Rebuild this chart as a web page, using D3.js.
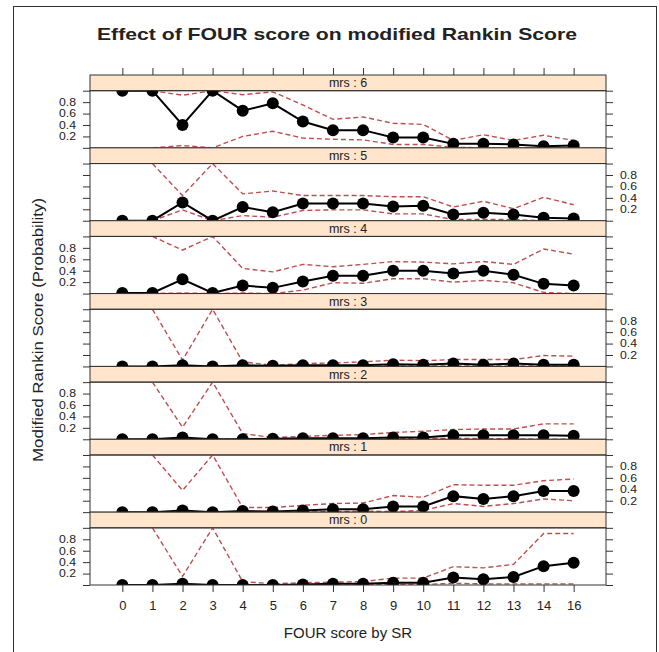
<!DOCTYPE html>
<html lang="en">
<head>
    <meta charset="UTF-8">
    <title>Effect of FOUR score on modified Rankin Score</title>
    <script src="https://d3js.org/d3.v7.min.js"></script>
    <style>
        body { margin: 0; background: #fff; }
        svg { display: block; }
        text { font-family: "Liberation Sans", Arial, sans-serif; fill: #222; }
        .strip-bg { fill: #ffe5cc; stroke: #333; stroke-width: 1; }
        .panel-box { fill: none; stroke: #333; stroke-width: 1; }
        .fit-line { fill: none; stroke: #000; stroke-width: 2; }
        .ci-line { fill: none; stroke: #bf4f4f; stroke-width: 1.4; stroke-dasharray: 5,3; }
    </style>
</head>
<body>
    <svg id="chart"></svg>

    <script>
        // FOUR score categories (15 is absent in the data)
        var fourScores = ["0", "1", "2", "3", "4", "5", "6", "7", "8", "9", "10", "11", "12", "13", "14", "16"];

        // panels from top to bottom
        var mrsLevels = [6, 5, 4, 3, 2, 1, 0];

        // fitted probability, one row per mrs level (same order as mrsLevels)
        var fitted = [
            [1.00, 1.00, 0.40, 1.00, 0.65, 0.78, 0.46, 0.31, 0.31, 0.18, 0.18, 0.07, 0.07, 0.06, 0.03, 0.04],
            [0.00, 0.00, 0.32, 0.00, 0.24, 0.15, 0.30, 0.30, 0.30, 0.25, 0.26, 0.11, 0.14, 0.11, 0.05, 0.04],
            [0.01, 0.01, 0.25, 0.01, 0.14, 0.10, 0.21, 0.31, 0.31, 0.40, 0.40, 0.35, 0.40, 0.33, 0.17, 0.14],
            [0.00, 0.00, 0.02, 0.00, 0.02, 0.01, 0.02, 0.02, 0.02, 0.04, 0.03, 0.05, 0.03, 0.05, 0.03, 0.03],
            [0.00, 0.00, 0.03, 0.00, 0.00, 0.01, 0.02, 0.02, 0.02, 0.03, 0.03, 0.07, 0.07, 0.07, 0.07, 0.06],
            [0.00, 0.00, 0.03, 0.00, 0.02, 0.01, 0.03, 0.05, 0.05, 0.10, 0.10, 0.28, 0.23, 0.28, 0.37, 0.37],
            [0.00, 0.00, 0.02, 0.00, 0.00, 0.00, 0.01, 0.02, 0.02, 0.04, 0.04, 0.13, 0.10, 0.14, 0.33, 0.39]
        ];

        // upper confidence bound
        var upper = [
            [null, 1.00, 0.92, 1.00, 0.93, 0.98, 0.75, 0.50, 0.54, 0.43, 0.41, 0.13, 0.23, 0.13, 0.22, 0.13],
            [null, 1.00, 0.44, 1.00, 0.47, 0.52, 0.44, 0.44, 0.44, 0.42, 0.42, 0.24, 0.34, 0.21, 0.41, 0.28],
            [null, 1.00, 0.76, 1.00, 0.44, 0.38, 0.51, 0.47, 0.51, 0.56, 0.55, 0.52, 0.56, 0.51, 0.78, 0.69],
            [null, 1.00, 0.11, 1.00, 0.08, 0.02, 0.05, 0.06, 0.08, 0.11, 0.10, 0.12, 0.12, 0.12, 0.19, 0.18],
            [null, 1.00, 0.21, 1.00, 0.10, 0.03, 0.05, 0.07, 0.08, 0.12, 0.14, 0.17, 0.18, 0.18, 0.27, 0.27],
            [null, 1.00, 0.38, 1.00, 0.08, 0.08, 0.12, 0.15, 0.16, 0.29, 0.26, 0.48, 0.47, 0.47, 0.55, 0.58],
            [null, 1.00, 0.15, 1.00, 0.06, 0.02, 0.04, 0.05, 0.06, 0.12, 0.12, 0.32, 0.30, 0.36, 0.90, 0.90]
        ];

        // lower confidence bound
        var lower = [
            [null, 0.00, 0.04, 0.00, 0.20, 0.29, 0.17, 0.15, 0.14, 0.06, 0.06, 0.01, 0.00, 0.00, 0.00, 0.00],
            [null, 0.00, 0.19, 0.00, 0.09, 0.06, 0.18, 0.19, 0.19, 0.12, 0.12, 0.02, 0.02, 0.02, 0.00, 0.00],
            [null, 0.00, 0.01, 0.00, 0.01, 0.00, 0.06, 0.19, 0.18, 0.26, 0.26, 0.20, 0.23, 0.19, 0.02, 0.00],
            [null, 0.00, 0.00, 0.00, 0.00, 0.00, 0.00, 0.00, 0.00, 0.01, 0.01, 0.01, 0.01, 0.01, 0.01, 0.01],
            [null, 0.00, 0.00, 0.00, 0.00, 0.00, 0.00, 0.00, 0.00, 0.01, 0.01, 0.02, 0.01, 0.01, 0.00, 0.00],
            [null, 0.00, 0.00, 0.00, 0.00, 0.00, 0.00, 0.01, 0.02, 0.01, 0.03, 0.15, 0.10, 0.15, 0.23, 0.20],
            [null, 0.00, 0.00, 0.00, 0.00, 0.00, 0.00, 0.00, 0.00, 0.01, 0.01, 0.03, 0.02, 0.02, 0.02, 0.02]
        ];

        var yTicks = [0, 0.2, 0.4, 0.6, 0.8, 1];
        var yTickLabels = ["0.2", "0.4", "0.6", "0.8"];

        var width = 659;
        var height = 652;

        // panel layout (not called "top": window.top is read-only)
        var plotLeft = 90, plotRight = 606, plotTop = 75, plotBottom = 585;
        var rowH = (plotBottom - plotTop) / mrsLevels.length;
        var stripH = 15.7;

        var svg = d3.select("#chart")
                    .attr("width", width)
                    .attr("height", height);

        // outer frame
        svg.append("rect")
           .attr("x", 13.5).attr("y", 6.5)
           .attr("width", 643).attr("height", 660)
           .attr("fill", "none").attr("stroke", "#333");

        // title
        svg.append("text")
           .attr("x", 337).attr("y", 40)
           .attr("text-anchor", "middle")
           .attr("font-size", 17)
           .attr("font-weight", "bold")
           .attr("fill", "#111")
           .attr("textLength", 480)
           .attr("lengthAdjust", "spacingAndGlyphs")
           .text("Effect of FOUR score on modified Rankin Score");

        // shared x scale
        var x = d3.scalePoint()
                  .domain(fourScores)
                  .range([plotLeft, plotRight])
                  .padding(1.075);

        // top and bottom x ticks
        svg.append("g")
           .attr("transform", "translate(0," + plotTop + ")")
           .call(d3.axisTop(x).tickSize(7).tickFormat(""))
           .call(function(g) { g.select(".domain").remove(); });

        var xAxis = svg.append("g")
           .attr("transform", "translate(0," + plotBottom + ")")
           .call(d3.axisBottom(x).tickSize(7).tickPadding(9))
           .call(function(g) { g.select(".domain").remove(); });
        xAxis.selectAll("text")
             .attr("font-size", 13)
             .attr("font-family", "Liberation Sans, Arial, sans-serif")
             .attr("fill", "#222");
        svg.selectAll(".tick line").attr("stroke", "#333");

        // axis titles
        svg.append("text")
           .attr("x", 348).attr("y", 638)
           .attr("text-anchor", "middle")
           .attr("font-size", 15)
           .text("FOUR score by SR");

        svg.append("text")
           .attr("transform", "translate(43,330) rotate(-90)")
           .attr("text-anchor", "middle")
           .attr("font-size", 14)
           .attr("textLength", 264)
           .attr("lengthAdjust", "spacingAndGlyphs")
           .text("Modified Rankin Score (Probability)");

        mrsLevels.forEach(function(level, i) {
            var stripTop = plotTop + i * rowH;
            var panelTop = stripTop + stripH;
            var panelBottom = plotTop + (i + 1) * rowH;

            var y = d3.scaleLinear()
                      .domain([0, 1])
                      .range([panelBottom, panelTop]);

            var g = svg.append("g");

            // strip
            g.append("rect")
             .attr("class", "strip-bg")
             .attr("x", plotLeft).attr("y", stripTop)
             .attr("width", plotRight - plotLeft).attr("height", stripH);
            g.append("text")
             .attr("x", (plotLeft + plotRight) / 2)
             .attr("y", stripTop + stripH - 3.5)
             .attr("text-anchor", "middle")
             .attr("font-size", 12.5)
             .text("mrs : " + level);

            // y ticks both sides, labels alternate left / right
            var labelsLeft = (i % 2 === 0);
            var fmt = d3.format(".1f");
            var axL = d3.axisLeft(y).tickValues(yTicks).tickSize(7).tickPadding(7)
                        .tickFormat(function(d) { return (labelsLeft && yTickLabels.indexOf(fmt(d)) >= 0) ? fmt(d) : ""; });
            var axR = d3.axisRight(y).tickValues(yTicks).tickSize(7).tickPadding(7)
                        .tickFormat(function(d) { return (!labelsLeft && yTickLabels.indexOf(fmt(d)) >= 0) ? fmt(d) : ""; });

            [[axL, plotLeft], [axR, plotRight]].forEach(function(a) {
                var ax = g.append("g")
                          .attr("transform", "translate(" + a[1] + ",0)")
                          .call(a[0]);
                ax.select(".domain").remove();
                ax.selectAll("line").attr("stroke", "#333");
                // small, slightly widened labels so the stacked ticks do not collide
                ax.selectAll("text")
                  .attr("font-size", 10.5)
                  .attr("font-family", "Liberation Sans, Arial, sans-serif")
                  .attr("fill", "#222")
                  .filter(function() { return this.textContent !== ""; })
                  .attr("textLength", 17)
                  .attr("lengthAdjust", "spacingAndGlyphs");
            });

            // clip the data to the panel
            var clipId = "clip" + level;
            svg.append("clipPath").attr("id", clipId)
               .append("rect")
               .attr("x", plotLeft).attr("y", panelTop)
               .attr("width", plotRight - plotLeft).attr("height", panelBottom - panelTop);

            var data = g.append("g").attr("clip-path", "url(#" + clipId + ")");

            var line = d3.line()
                         .defined(function(d) { return d.v != null; })
                         .x(function(d) { return x(d.k); })
                         .y(function(d) { return y(d.v); });

            function rows(vals) {
                return fourScores.map(function(k, j) { return { k: k, v: vals[j] }; });
            }

            data.append("path").attr("class", "ci-line").attr("d", line(rows(upper[i])));
            data.append("path").attr("class", "ci-line").attr("d", line(rows(lower[i])));
            data.append("path").attr("class", "fit-line").attr("d", line(rows(fitted[i])));

            data.selectAll("circle")
                .data(rows(fitted[i]))
                .enter().append("circle")
                .attr("cx", function(d) { return x(d.k); })
                .attr("cy", function(d) { return y(d.v); })
                .attr("r", 6)
                .attr("fill", "#000");

            // panel border
            g.append("rect")
             .attr("class", "panel-box")
             .attr("x", plotLeft).attr("y", panelTop)
             .attr("width", plotRight - plotLeft).attr("height", panelBottom - panelTop);
        });
    </script>
</body>
</html>
